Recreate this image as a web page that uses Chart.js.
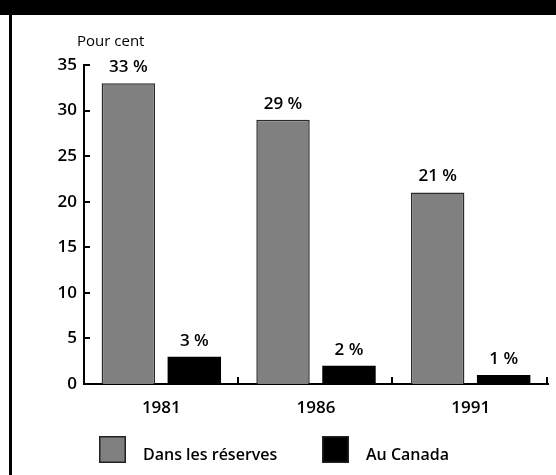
<!DOCTYPE html>
<html>
<head>
<meta charset="utf-8">
<script src="https://cdn.jsdelivr.net/npm/chart.js@4/dist/chart.umd.min.js"></script>
<style>
  html, body { margin: 0; padding: 0; background: #fff; }
  #wrap { position: relative; width: 556px; height: 475px; }
</style>
</head>
<body>
<div id="wrap"><canvas id="chart" width="556" height="475"></canvas></div>
<script>
// data
const years = ['1981', '1986', '1991'];
const reserves = [33, 29, 21];
const canada = [3, 2, 1];
const seriesNames = ['Dans les réserves', 'Au Canada'];
const yMax = 35;
const yStep = 5;

const FONT = '"Open Sans", "DejaVu Sans", sans-serif';

// frame, inner ticks, value labels, legend
const decor = {
    id: 'decor',
    beforeDraw(chart) {
        const ctx = chart.ctx;
        ctx.save();
        ctx.fillStyle = '#fff';
        ctx.fillRect(0, 0, chart.width, chart.height);
        ctx.fillStyle = '#000';
        ctx.fillRect(0, 0, chart.width, 15);
        ctx.fillRect(9, 15, 3, chart.height - 15);
        ctx.font = '15px ' + FONT;
        ctx.textBaseline = 'middle';
        ctx.textAlign = 'left';
        ctx.fillText('Pour cent', 77, 42);
        ctx.restore();
    },
    afterDraw(chart) {
        const ctx = chart.ctx;
        const x = chart.scales.x, y = chart.scales.y;
        ctx.save();
        ctx.strokeStyle = '#000';
        ctx.lineWidth = 2;
        // y ticks pointing inward
        y.ticks.forEach(t => {
            if (t.value === 0) return;
            const py = Math.round(y.getPixelForValue(t.value));
            ctx.beginPath();
            ctx.moveTo(x.left, py);
            ctx.lineTo(x.left + 6, py);
            ctx.stroke();
        });
        // x ticks at category boundaries, pointing up
        const w = (x.right - x.left) / years.length;
        for (let k = 1; k <= years.length; k++) {
            const px = Math.round(x.left + k * w) - 1;
            ctx.beginPath();
            ctx.moveTo(px, y.bottom);
            ctx.lineTo(px, y.bottom - 7);
            ctx.stroke();
        }
        // value labels
        ctx.fillStyle = '#000';
        ctx.font = '600 17px ' + FONT;
        ctx.textAlign = 'center';
        ctx.textBaseline = 'middle';
        chart.data.datasets.forEach((ds, i) => {
            chart.getDatasetMeta(i).data.forEach((bar, j) => {
                ctx.fillText(ds.data[j] + ' %', bar.x, bar.y - 16);
            });
        });
        // legend
        const items = [
            { x: 99, ds: chart.data.datasets[0] },
            { x: 322, ds: chart.data.datasets[1] }
        ];
        ctx.font = '600 16px ' + FONT;
        ctx.textAlign = 'left';
        items.forEach(it => {
            ctx.fillStyle = it.ds.backgroundColor;
            ctx.fillRect(it.x, 436, 27, 27);
            ctx.lineWidth = 1.5;
            ctx.strokeStyle = '#222';
            ctx.strokeRect(it.x + 0.75, 436.75, 25.5, 25.5);
            ctx.fillStyle = '#000';
            ctx.fillText(it.ds.label, it.x + 44, 455);
        });
        ctx.restore();
    }
};

new Chart(document.getElementById('chart'), {
    type: 'bar',
    data: {
        labels: years,
        datasets: [
            {
                label: seriesNames[0],
                data: reserves,
                backgroundColor: '#808080',
                borderColor: '#2a2a2a',
                borderWidth: 1.5
            },
            {
                label: seriesNames[1],
                data: canada,
                backgroundColor: '#000',
                borderColor: '#000',
                borderWidth: 0
            }
        ]
    },
    options: {
        responsive: false,
        animation: false,
        categoryPercentage: 0.853,
        barPercentage: 0.81,
        layout: { padding: { top: 65, right: 8, left: 0, bottom: 0 } },
        plugins: {
            legend: { display: false },
            tooltip: { enabled: false },
            title: { display: false }
        },
        scales: {
            x: {
                grid: { display: false, drawTicks: false },
                border: { display: true, color: '#000', width: 2 },
                ticks: {
                    color: '#000',
                    padding: 14,
                    font: { family: FONT, size: 17, weight: '600' }
                },
                afterFit(s) { s.height = 91; }
            },
            y: {
                min: 0,
                max: yMax,
                grid: { display: false, drawTicks: false },
                border: { display: true, color: '#000', width: 2 },
                ticks: {
                    stepSize: yStep,
                    color: '#000',
                    padding: 7,
                    font: { family: FONT, size: 17, weight: '600' }
                },
                afterFit(s) { s.width = 84; }
            }
        }
    },
    plugins: [decor]
});
</script>
</body>
</html>
